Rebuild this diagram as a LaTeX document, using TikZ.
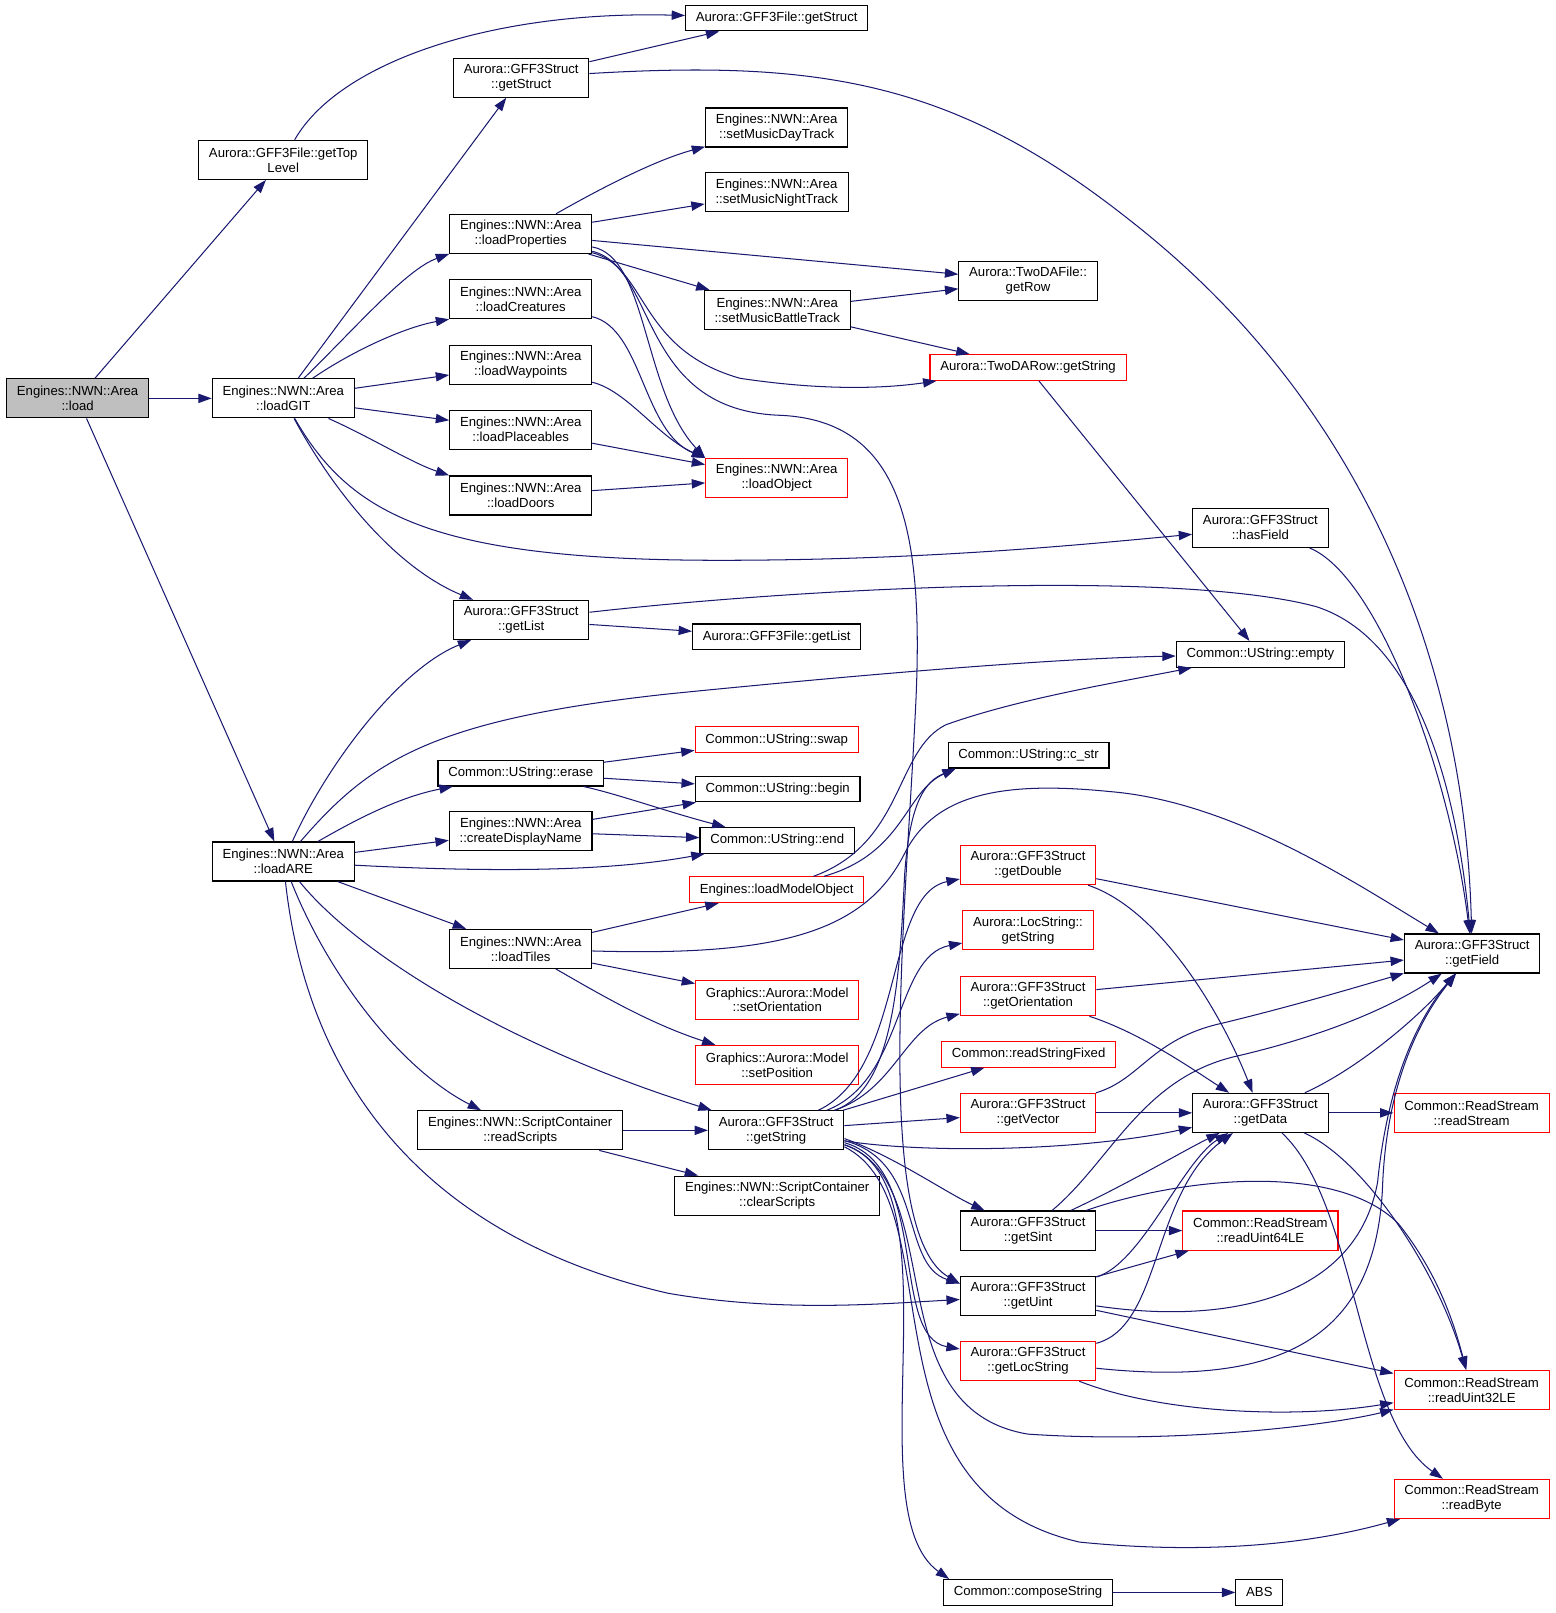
\documentclass[tikz,border=0pt]{standalone}
\usepackage{fontspec}
\usetikzlibrary{arrows.meta,positioning}
\newfontfamily\dotfont{Liberation Sans}
\definecolor{edgeblue}{HTML}{191970}
\definecolor{loadgray}{HTML}{BFBFBF}
\begin{document}
\begin{tikzpicture}[x=1pt,y=-1pt,
  fn/.style={draw=black,line width=1.1pt,minimum height=38pt,inner xsep=10pt,inner ysep=2pt,align=center,font=\dotfont\fontsize{12.8}{14.5}\selectfont},
  one/.style={minimum height=25pt},
  fnred/.style={fn,draw=red},
  call/.style={draw=edgeblue,line width=1pt,-{Triangle[length=13pt,width=9pt]}}]
\useasboundingbox (0,0) rectangle (1513,1569);
% left column
\node[fn,fill=loadgray] (load) at (75.5,387.5) {Engines::NWN::Area\\::load};
\node[fn] (getTopLevel) at (275.5,155.5) {Aurora::GFF3File::getTop\\Level};
\node[fn] (loadGIT) at (275.5,387.5) {Engines::NWN::Area\\::loadGIT};
\node[fn] (loadARE) at (275.5,838) {Engines::NWN::Area\\::loadARE};
% second column
\node[fn] (getStruct) at (507,75.5) {Aurora::GFF3Struct\\::getStruct};
\node[fn] (loadProperties) at (506.5,227.5) {Engines::NWN::Area\\::loadProperties};
\node[fn] (loadCreatures) at (506.5,291) {Engines::NWN::Area\\::loadCreatures};
\node[fn] (loadWaypoints) at (506.5,355) {Engines::NWN::Area\\::loadWaypoints};
\node[fn] (loadPlaceables) at (506.5,418) {Engines::NWN::Area\\::loadPlaceables};
\node[fn] (loadDoors) at (506.5,482) {Engines::NWN::Area\\::loadDoors};
\node[fn] (getList) at (507,603) {Aurora::GFF3Struct\\::getList};
\node[fn,one] (erase) at (506.5,752) {Common::UString::erase};
\node[fn] (createName) at (506.5,808.5) {Engines::NWN::Area\\::createDisplayName};
\node[fn] (loadTiles) at (506.5,923) {Engines::NWN::Area\\::loadTiles};
\node[fn] (readScripts) at (506,1099.5) {Engines::NWN::ScriptContainer\\::readScripts};
% third column
\node[fn,one] (fileGetStruct) at (755.5,17.5) {Aurora::GFF3File::getStruct};
\node[fn] (setDay) at (755.5,124) {Engines::NWN::Area\\::setMusicDayTrack};
\node[fn] (setNight) at (755.5,187) {Engines::NWN::Area\\::setMusicNightTrack};
\node[fn] (setBattle) at (756,301.5) {Engines::NWN::Area\\::setMusicBattleTrack};
\node[fnred] (loadObject) at (755.5,465) {Engines::NWN::Area\\::loadObject};
\node[fn,one] (fileGetList) at (755.5,619.5) {Aurora::GFF3File::getList};
\node[fnred,one] (swap) at (755.5,719.5) {Common::UString::swap};
\node[fn,one] (begin) at (756.5,767.5) {Common::UString::begin};
\node[fn,one] (strEnd) at (756,817.5) {Common::UString::end};
\node[fnred,one] (loadModel) at (755.5,865.5) {Engines::loadModelObject};
\node[fnred] (setOrient) at (756,972.5) {Graphics::Aurora::Model\\::setOrientation};
\node[fnred] (setPos) at (756,1036) {Graphics::Aurora::Model\\::setPosition};
\node[fn] (getString) at (755,1099.5) {Aurora::GFF3Struct\\::getString};
\node[fn] (clearScripts) at (756,1163) {Engines::NWN::ScriptContainer\\::clearScripts};
% fourth column
\node[fn] (getRow) at (1000,273) {Aurora::TwoDAFile::\\getRow};
\node[fnred,one] (rowString) at (1000,357.5) {Aurora::TwoDARow::getString};
\node[fn,one] (cStr) at (1000.5,734.5) {Common::UString::c\_str};
\node[fnred] (getDouble) at (1000,841.5) {Aurora::GFF3Struct\\::getDouble};
\node[fnred] (locString) at (1000,905) {Aurora::LocString::\\getString};
\node[fnred] (getOrient) at (1000,969) {Aurora::GFF3Struct\\::getOrientation};
\node[fnred,one] (readFixed) at (1000.5,1025.5) {Common::readStringFixed};
\node[fnred] (getVector) at (1000,1082.5) {Aurora::GFF3Struct\\::getVector};
\node[fn] (getSint) at (1000,1197) {Aurora::GFF3Struct\\::getSint};
\node[fn] (getUint) at (1000,1260.5) {Aurora::GFF3Struct\\::getUint};
\node[fnred] (getLocString) at (1000,1324) {Aurora::GFF3Struct\\::getLocString};
\node[fn,one] (compose) at (1000,1549) {Common::composeString};
% right columns
\node[fn] (hasField) at (1226,513.5) {Aurora::GFF3Struct\\::hasField};
\node[fn,one] (empty) at (1226,636.5) {Common::UString::empty};
\node[fn] (getData) at (1226,1082.5) {Aurora::GFF3Struct\\::getData};
\node[fnred] (readU64) at (1226,1197) {Common::ReadStream\\::readUint64LE};
\node[fn,one] (abs) at (1225,1549) {ABS};
\node[fn] (getField) at (1432,927.5) {Aurora::GFF3Struct\\::getField};
\node[fnred] (readStream) at (1431.5,1082.5) {Common::ReadStream\\::readStream};
\node[fnred] (readU32) at (1431.5,1352) {Common::ReadStream\\::readUint32LE};
\node[fnred] (readByte) at (1431.5,1458) {Common::ReadStream\\::readByte};
% calls of load and loadGIT
\draw[call] (load) -- (getTopLevel);
\draw[call] (load) -- (loadGIT);
\draw[call] (load) -- (loadARE);
\draw[call] (getTopLevel) .. controls (330,60) and (480,10) .. (fileGetStruct);
\draw[call] (getStruct) -- (fileGetStruct);
\draw[call] (getStruct) .. controls (800,58) and (930,80) .. (1100,215) .. controls (1330,395) and (1425,650) .. (getField);
\draw[call] (loadGIT) -- (getStruct);
\draw[call] (loadGIT) .. controls (345,320) and (395,262) .. (loadProperties.south west);
\draw[call] (loadGIT) .. controls (345,340) and (395,318) .. (loadCreatures.south west);
\draw[call] (loadGIT) -- (loadWaypoints);
\draw[call] (loadGIT) -- (loadPlaceables);
\draw[call] (loadGIT) .. controls (360,425) and (400,450) .. (loadDoors.north west);
\draw[call] (loadGIT) .. controls (320,470) and (380,550) .. (getList);
\draw[call] (loadGIT) .. controls (340,500) and (420,545) .. (700,545) .. controls (900,545) and (1050,530) .. (hasField);
% loadProperties and friends
\draw[call] (loadProperties) .. controls (590,180) and (640,155) .. (setDay);
\draw[call] (loadProperties) -- (setNight);
\draw[call] (loadProperties) -- (getRow);
\draw[call] (loadProperties) -- (setBattle);
\draw[call] (loadProperties) .. controls (630,250) and (625,380) .. (loadObject.north west);
\draw[call] (loadProperties) .. controls (630,260) and (620,340) .. (720,368) .. controls (800,380) and (860,378) .. (rowString);
\draw[call] (loadProperties) .. controls (640,260) and (620,400) .. (760,404) .. controls (880,410) and (900,520) .. (890,700) .. controls (880,900) and (850,1200) .. ([yshift=12pt]getUint.west);
\draw[call] (loadCreatures) .. controls (625,320) and (625,420) .. (loadObject.north west);
\draw[call] (loadWaypoints) .. controls (610,380) and (640,425) .. (loadObject.north west);
\draw[call] (loadPlaceables) -- (loadObject);
\draw[call] (loadDoors) -- (loadObject);
\draw[call] (setBattle) -- (getRow);
\draw[call] (setBattle) -- (rowString);
\draw[call] (rowString) -- (empty);
\draw[call] (hasField) .. controls (1340,560) and (1410,750) .. (getField);
\draw[call] (getList) -- (fileGetList);
\draw[call] (getList) .. controls (800,570) and (1150,555) .. (1280,590) .. controls (1390,625) and (1420,800) .. (getField);
% calls of loadARE
\draw[call] (loadARE) .. controls (320,740) and (390,650) .. (getList);
\draw[call] (loadARE) .. controls (360,740) and (420,700) .. (650,675) .. controls (900,650) and (1050,640) .. (empty);
\draw[call] (loadARE) .. controls (350,795) and (390,775) .. (erase);
\draw[call] (loadARE) -- (createName);
\draw[call] (loadARE) .. controls (450,847) and (580,850) .. (strEnd);
\draw[call] (loadARE) -- (loadTiles);
\draw[call] (loadARE) .. controls (350,930) and (500,1020) .. (getString);
\draw[call] (loadARE) .. controls (320,950) and (390,1040) .. (readScripts);
\draw[call] (loadARE) .. controls (300,1060) and (420,1205) .. (650,1258) .. controls (760,1277) and (860,1268) .. (getUint);
\draw[call] (erase) -- (swap);
\draw[call] (erase) -- (begin);
\draw[call] (erase) .. controls (600,772) and (650,790) .. (strEnd);
\draw[call] (createName) -- (begin);
\draw[call] (createName) -- (strEnd);
\draw[call] (loadModel) .. controls (880,820) and (870,730) .. (920,705) .. controls (990,680) and (1080,665) .. (empty);
\draw[call] (loadModel) .. controls (880,830) and (880,770) .. ([xshift=8pt]cStr.south west);
\draw[call] (loadTiles) -- (loadModel);
\draw[call] (loadTiles) .. controls (750,930) and (840,910) .. (880,830) .. controls (910,770) and (980,760) .. (1080,770) .. controls (1200,780) and (1320,860) .. (getField);
\draw[call] (loadTiles) -- (setOrient);
\draw[call] (loadTiles) .. controls (580,965) and (630,995) .. (setPos);
\draw[call] (readScripts) -- (getString);
\draw[call] (readScripts) -- (clearScripts);
% calls of GFF3Struct::getString
\draw[call] (getString) .. controls (870,1060) and (875,950) .. (880,850) .. controls (885,780) and (900,760) .. ([xshift=8pt]cStr.south west);
\draw[call] (getString) .. controls (880,1040) and (860,870) .. (getDouble);
\draw[call] (getString) .. controls (880,1050) and (870,930) .. (locString);
\draw[call] (getString) .. controls (870,1060) and (880,1000) .. (getOrient);
\draw[call] (getString) .. controls (870,1065) and (920,1050) .. (readFixed);
\draw[call] (getString) -- (getVector);
\draw[call] (getString) .. controls (900,1122) and (1050,1120) .. (getData);
\draw[call] ([yshift=-8pt]getString.east) .. controls (870,1125) and (920,1160) .. (getSint);
\draw[call] ([yshift=-10pt]getString.east) .. controls (900,1130) and (875,1230) .. ([yshift=12pt]getUint.west);
\draw[call] ([yshift=-12pt]getString.east) .. controls (905,1135) and (865,1300) .. (getLocString);
\draw[call] ([yshift=-14pt]getString.east) .. controls (935,1150) and (830,1470) .. ([xshift=6pt]compose.north west);
\draw[call] ([yshift=-14pt]getString.east) .. controls (925,1150) and (850,1370) .. (1000,1395) .. controls (1150,1405) and (1300,1385) .. (readU32);
\draw[call] ([yshift=-16pt]getString.east) .. controls (930,1170) and (830,1450) .. (1050,1500) .. controls (1200,1515) and (1300,1495) .. (readByte);
% right cluster
\draw[call] (getDouble) -- (getField);
\draw[call] (getDouble) .. controls (1130,885) and (1190,990) .. (getData);
\draw[call] (getOrient) -- (getField);
\draw[call] (getOrient) .. controls (1110,1005) and (1160,1040) .. (getData);
\draw[call] (getVector) .. controls (1110,1050) and (1120,1010) .. (1190,995) .. controls (1260,978) and (1320,960) .. (getField);
\draw[call] (getVector) -- (getData);
\draw[call] (getData) -- (readStream);
\draw[call] (getData) .. controls (1320,1040) and (1380,990) .. (getField);
\draw[call] (getData) .. controls (1330,1130) and (1400,1240) .. (readU32);
\draw[call] (getData) .. controls (1320,1170) and (1320,1380) .. (readByte);
\draw[call] (getSint) .. controls (1100,1150) and (1150,1120) .. (getData);
\draw[call] (getSint) .. controls (1080,1130) and (1110,1050) .. (1200,1028) .. controls (1300,1005) and (1360,975) .. (getField);
\draw[call] (getSint) -- (readU64);
\draw[call] (getSint) .. controls (1150,1145) and (1300,1130) .. (1360,1190) .. controls (1400,1240) and (1415,1290) .. (readU32);
\draw[call] (getUint) .. controls (1110,1230) and (1150,1130) .. (getData);
\draw[call] (getUint) -- (readU64);
\draw[call] (getUint) .. controls (1200,1290) and (1320,1260) .. (1340,1150) .. controls (1350,1050) and (1380,990) .. (getField);
\draw[call] (getUint) -- (readU32);
\draw[call] (getLocString) .. controls (1130,1290) and (1120,1160) .. (getData);
\draw[call] (getLocString) .. controls (1250,1350) and (1340,1300) .. (1345,1150) .. controls (1350,1040) and (1390,980) .. (getField);
\draw[call] (getLocString) .. controls (1130,1375) and (1260,1380) .. (readU32);
\draw[call] (compose) -- (abs);
\end{tikzpicture}
\end{document}
